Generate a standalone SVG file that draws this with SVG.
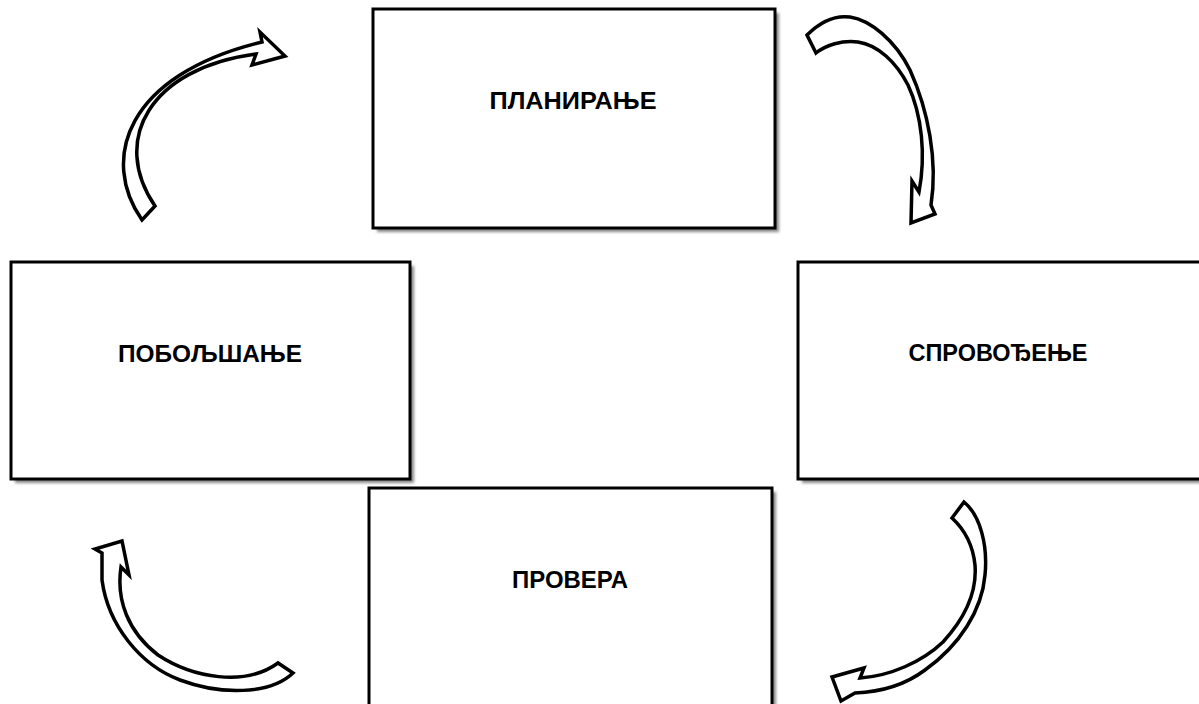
<svg xmlns="http://www.w3.org/2000/svg" width="1199" height="704" viewBox="0 0 1199 704">
<style>
.box{fill:#fff;stroke:#000;stroke-width:3}
.shadow{fill:#888;filter:url(#blur)}
.lbl{font-family:"Liberation Sans","DejaVu Sans",sans-serif;font-weight:bold;font-size:23px;fill:#000;text-anchor:middle}
.arrow{fill:#fff;stroke:#000;stroke-width:3.5;stroke-linejoin:miter}
</style>
<defs>
<filter id="blur" x="-5%" y="-5%" width="110%" height="110%"><feGaussianBlur stdDeviation="1.5"/></filter>
</defs>
<rect width="1199" height="704" fill="#fff"/>
<g id="planiranje">
<rect class="shadow" x="377" y="13" width="402" height="219"/>
<rect class="box" x="373" y="9" width="402" height="219"/>
<text class="lbl" x="573" y="109" textLength="167" lengthAdjust="spacingAndGlyphs">ПЛАНИРАЊЕ</text>
</g>
<g id="poboljsanje">
<rect class="shadow" x="15" y="266" width="399" height="217"/>
<rect class="box" x="11" y="262" width="399" height="217"/>
<text class="lbl" x="210" y="362" textLength="184" lengthAdjust="spacingAndGlyphs">ПОБОЉШАЊЕ</text>
</g>
<g id="sprovodjenje">
<rect class="shadow" x="802" y="266" width="410" height="217"/>
<rect class="box" x="798" y="262" width="410" height="217"/>
<text class="lbl" x="998" y="361" textLength="179" lengthAdjust="spacingAndGlyphs">СПРОВОЂЕЊЕ</text>
</g>
<g id="provera">
<rect class="shadow" x="373" y="492" width="403" height="230"/>
<rect class="box" x="369" y="488" width="403" height="230"/>
<text class="lbl" x="570" y="588" textLength="116" lengthAdjust="spacingAndGlyphs">ПРОВЕРА</text>
</g>
<g id="connectors">
<path class="arrow" d="M142,220 C100,160 125,75 262,42 L260,32 L285,56 L252,65 L256,54 C150,68 110,140 155,206 Z"/>
<path class="arrow" d="M807,35 C820,22 835,15 850,17 C870,20 895,40 910,70 C928,110 938,160 931,205 L935,214 L911,223 L912,181 L919,192 C926,155 922,115 908,85 C896,62 878,45 858,42 C842,40 826,45 816,53 Z"/>
<path class="arrow" d="M964,502 C980,515 988,545 985,575 C982,610 960,645 925,670 C905,685 880,692 855,693 L841,701 L832,677 L864,668 L860,678 C890,676 922,662 943,642 C966,617 977,590 975,565 C973,545 965,530 952,518 Z"/>
<path class="arrow" d="M293,673 C270,695 220,695 180,680 C140,665 108,625 102,580 L102,553 L95,549 L122,541 L129,575 L121,567 C116,600 128,632 158,655 C193,678 245,687 278,663 Z"/>
</g>
</svg>
